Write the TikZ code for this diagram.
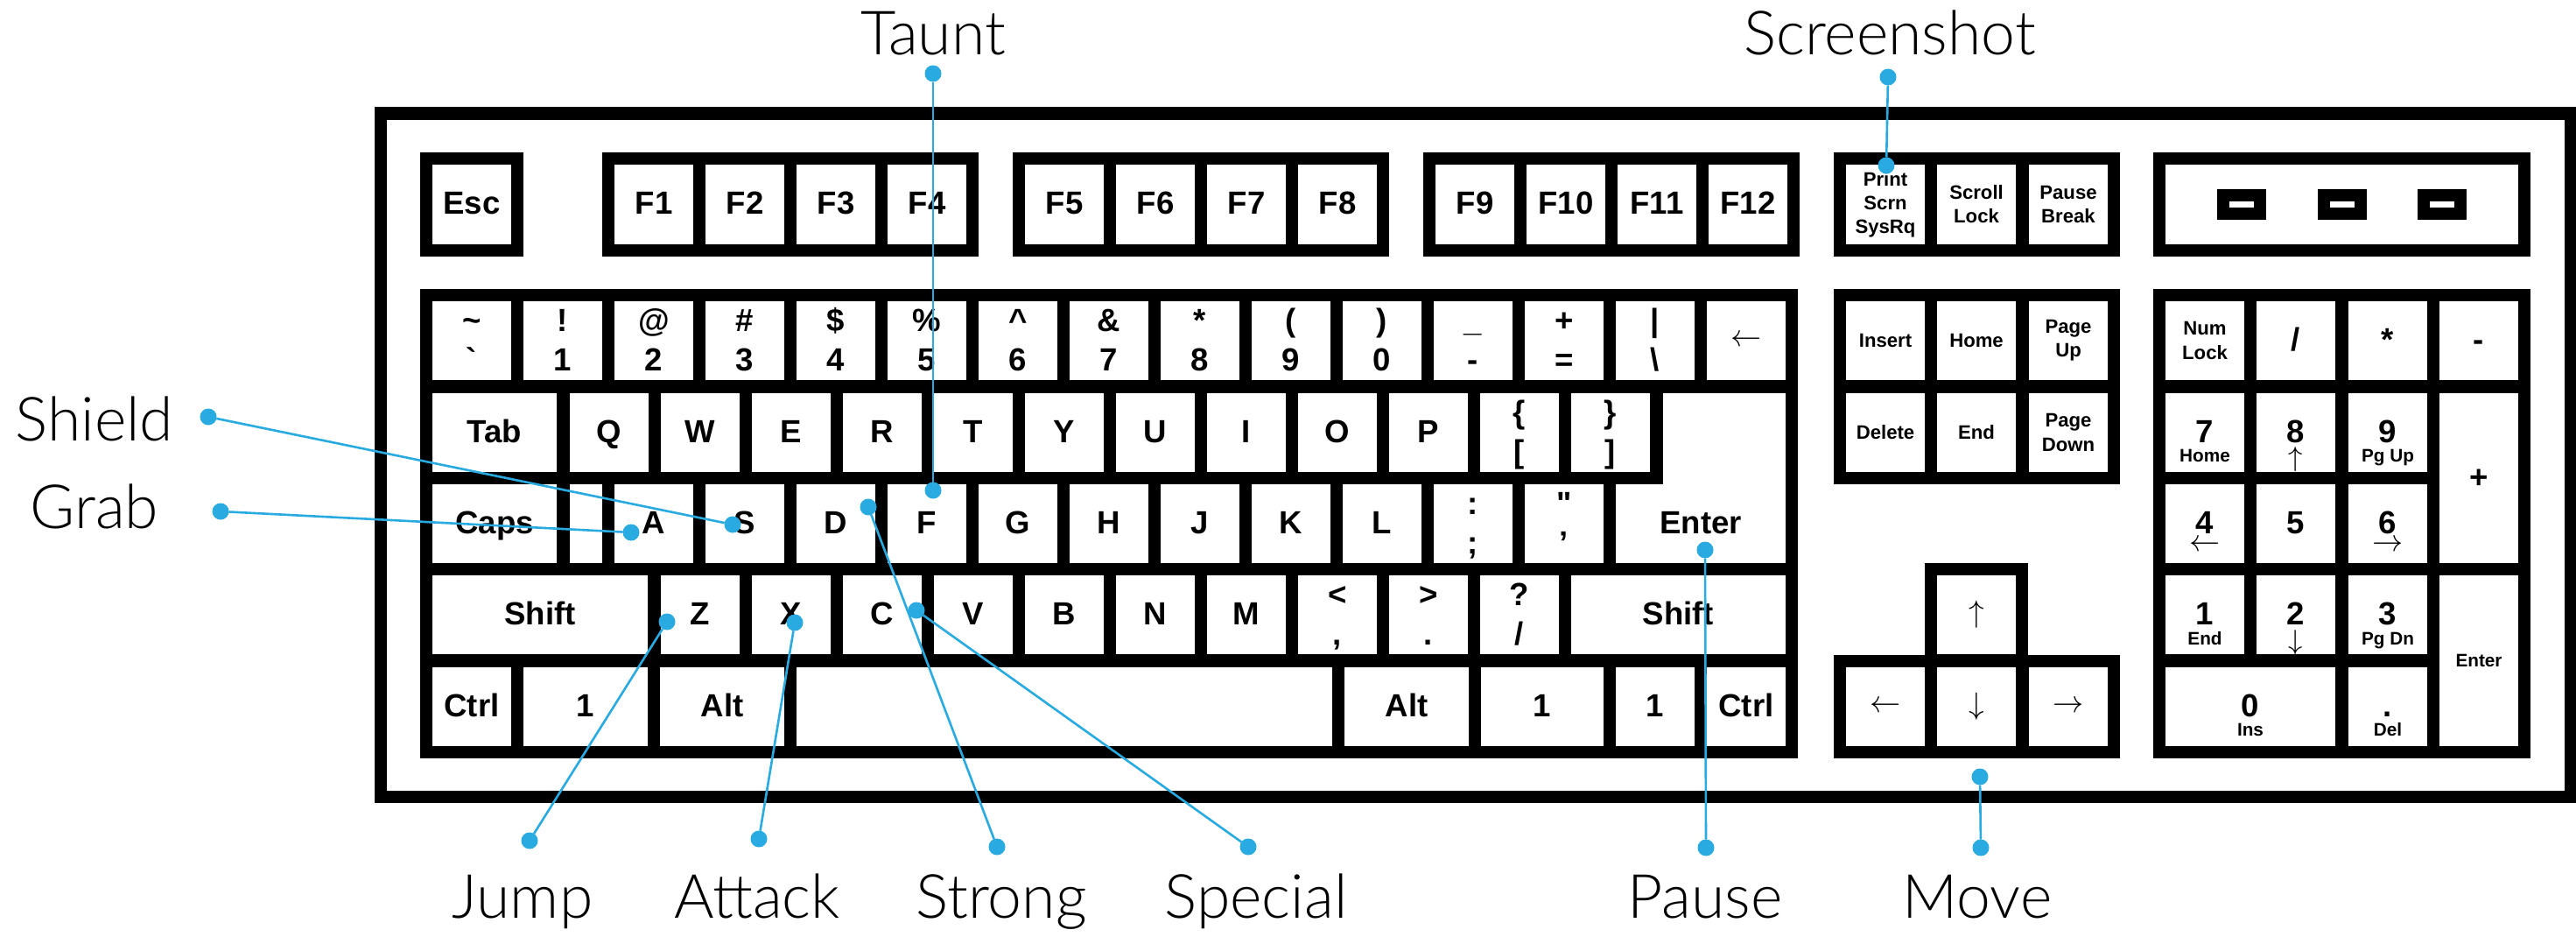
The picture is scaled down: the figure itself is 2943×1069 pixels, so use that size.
\documentclass[tikz,border=0pt]{standalone}
\usepackage{fontspec}
\setmainfont{Liberation Sans}
\newfontfamily\calloutfont{Lato Light}
\usepackage{tikz}
\usetikzlibrary{positioning}
\definecolor{callblue}{HTML}{29ABE2}
\tikzset{every node/.append style={inner sep=0pt, outer sep=0pt}}

\begin{document}
\begin{tikzpicture}[
    x=0.01cm, y=-0.01cm,
    casefill/.style={fill=black},
    keybox/.style={rectangle, fill=white, minimum width=0.9cm, minimum height=0.9cm},
    key/.style={keybox, font=\fontsize{10.4}{12}\selectfont\bfseries,
        text height=0.27cm, text depth=0.05cm},
    skey/.style={keybox, font=\fontsize{6.3}{7.7}\selectfont\bfseries, align=center},
    akey/.style={keybox, font=\fontsize{10}{12}\selectfont},
    keytxt/.style={anchor=base, font=\fontsize{10.4}{12}\selectfont\bfseries},
    subtxt/.style={anchor=base, font=\fontsize{5.9}{7}\selectfont\bfseries},
    lbl/.style={anchor=base, font=\calloutfont\fontsize{19.8}{24}\selectfont},
    calldot/.style={circle, fill=callblue, minimum size=0.19cm},
    callline/.style={callblue, line width=0.026cm}
]
\useasboundingbox (0,0) rectangle (2943,1069);

% ===== CASE =====
\fill[casefill] (428,122) rectangle (2943,917);
\fill[white] (442,137) rectangle (2930,903);

\fill[casefill] (480,174) rectangle (598,293);
\fill[casefill] (688,174) rectangle (1118,293);
\fill[casefill] (1157,174) rectangle (1587,293);
\fill[casefill] (1626,174) rectangle (2056,293);
\fill[casefill] (2095,174) rectangle (2422,293);
\fill[casefill] (2460,174) rectangle (2891,293);
\fill[casefill] (480,330) rectangle (2054,866);
\fill[casefill] (2095,330) rectangle (2422,553);
\fill[casefill] (2199,643) rectangle (2317,762);
\fill[casefill] (2095,748) rectangle (2422,866);
\fill[casefill] (2460,330) rectangle (2891,866);

% ===== FUNCTION ROW =====
\node[key] (esc) at (539,233.5) {Esc};
\foreach \t [count=\i from 0] in {1,2,3,4}
  \node[key] (f\t) at (747+104*\i,233.5) {F\t};
\foreach \t [count=\i from 0] in {5,6,7,8}
  \node[key] (f\t) at (1216+104*\i,233.5) {F\t};
\foreach \t [count=\i from 0] in {9,10,11,12}
  \node[key] (f\t) at (1685+104*\i,233.5) {F\t};
\node[skey] (prt) at (2154,233.5) {Print\\Scrn\\SysRq};
\node[skey] (scr) at (2258,233.5) {Scroll\\Lock};
\node[skey] (pse) at (2363,233.5) {Pause\\Break};
\node[keybox, minimum width=4.03cm, minimum height=0.91cm] (leds) at (2675.5,233.5) {};
\foreach \x in {2533,2647.5,2761.5} {
  \fill[casefill] (\x,216) rectangle +(56,35);
  \fill[white] (\x+14,230) rectangle +(28,7);
}

% ===== MAIN BLOCK =====
\foreach \u/\d [count=\i from 0] in {\textasciitilde/\textasciigrave, !/1, @/2, \#/3,
    \$/4, \%/5, \textasciicircum/6, \&/7, */8, {(}/9, {)}/0, \_/-, +/=, |/\textbackslash}{
  \node[keybox] (n\i) at (539+104*\i,389) {};
  \node[keytxt] (nu\i) at ([yshift=0.11cm]n\i.center) {\u};
  \node[keytxt] (nd\i) at ([yshift=-0.34cm]n\i.center) {\d};
}
\node[akey] (bksp) at (1995,389) {$\leftarrow$};

\node[key, minimum width=1.42cm] (tab) at (565,494) {Tab};
\foreach \t [count=\i from 0] in {Q,W,E,R,T,Y,U,I,O,P}
  \node[key] (k\t) at (696+104*\i,494) {\t};

\node[key, minimum width=1.42cm] (caps) at (565,598) {Caps};
\node[keybox, minimum width=0.37cm] (blank) at (669.5,598) {};
\foreach \t [count=\i from 0] in {A,S,D,F,G,H,J,K,L}
  \node[key] (k\t) at (747+104*\i,598) {\t};
\node[keybox, minimum width=1.40cm, minimum height=1.04cm] (entup) at (1970,501) {};
\node[key, minimum width=1.94cm] (enter) at (1943,598) {Enter};

\node[key, minimum width=2.46cm] (lshift) at (617,702) {Shift};
\foreach \t [count=\i from 0] in {Z,X,C,V,B,N,M}
  \node[key] (k\t) at (800+104*\i,702) {\t};
\node[key, minimum width=2.45cm] (rshift) at (1917.5,702) {Shift};

\foreach \x/\y/\u/\d [count=\i] in {1736/494/\{/[, 1840/494/\}/], 1683/598/:/;,
    1787/598/\textquotedbl/', 1528/702/</{,}, 1632/702/>/., 1736/702/?/{/}}{
  \node[keybox] (s\i) at (\x,\y) {};
  \node[keytxt] (su\i) at ([yshift=0.11cm]s\i.center) {\u};
  \node[keytxt] (sd\i) at ([yshift=-0.34cm]s\i.center) {\d};
}

\node[key] (lctrl) at (539,807) {Ctrl};
\node[key, minimum width=1.42cm] (lwin) at (669,807) {1};
\node[key, minimum width=1.42cm] (lalt) at (825,807) {Alt};
\node[keybox, minimum width=6.12cm] (space) at (1216,807) {};
\node[key, minimum width=1.42cm] (ralt) at (1607,807) {Alt};
\node[key, minimum width=1.40cm] (rwin) at (1762,807) {1};
\node[key] (menu) at (1891,807) {1};
\node[key] (rctrl) at (1995,807) {Ctrl};

% ===== NAVIGATION =====
\node[skey] (ins) at (2154,389) {Insert};
\node[skey] (home) at (2258,389) {Home};
\node[skey] (pgup) at (2363,389) {Page\\Up};
\node[skey] (del) at (2154,494) {Delete};
\node[skey] (end) at (2258,494) {End};
\node[skey] (pgdn) at (2363,494) {Page\\Down};
\node[akey] (up) at (2258,702) {$\uparrow$};
\node[akey] (left) at (2154,807) {$\leftarrow$};
\node[akey] (down) at (2258,807) {$\downarrow$};
\node[akey] (right) at (2363,807) {$\rightarrow$};

% ===== NUMPAD =====
\node[skey] (numlk) at (2519,389) {Num\\Lock};
\node[key] (pdiv) at (2623,389) {/};
\node[key] (pmul) at (2728,389) {*};
\node[key] (psub) at (2832,389) {-};
\node[key, minimum height=1.94cm] (padd) at (2832,546) {+};
\node[skey, minimum height=1.95cm, font=\fontsize{5.9}{7}\selectfont\bfseries] (pent) at (2832,754.5) {Enter};
\foreach \d/\x/\y in {7/2519/494, 8/2623/494, 9/2728/494, 4/2519/598, 5/2623/598,
    6/2728/598, 1/2519/702, 2/2623/702, 3/2728/702}
  \node[key] (p\d) at (\x,\y) {\d};
\node[key, minimum width=1.94cm] (p0) at (2571,807) {0};
\node[key] (pdot) at (2728,807) {.};
\node[subtxt] (p7s) at ([yshift=-0.33cm]p7.center) {Home};
\node[subtxt] (p9s) at ([yshift=-0.33cm]p9.center) {Pg Up};
\node[subtxt] (p1s) at ([yshift=-0.345cm]p1.center) {End};
\node[subtxt] (p3s) at ([yshift=-0.345cm]p3.center) {Pg Dn};
\node[subtxt] (p0s) at ([yshift=-0.335cm]p0.center) {Ins};
\node[subtxt] (pdots) at ([yshift=-0.335cm]pdot.center) {Del};
\node[font=\fontsize{8.8}{10}\selectfont] (p8s) at ([yshift=-0.31cm]p8.center) {$\uparrow$};
\node[font=\fontsize{8.8}{10}\selectfont] (p2s) at ([yshift=-0.315cm]p2.center) {$\downarrow$};
\node[font=\fontsize{10}{12}\selectfont] (p4s) at ([yshift=-0.255cm]p4.center) {$\leftarrow$};
\node[font=\fontsize{10}{12}\selectfont] (p6s) at ([yshift=-0.255cm]p6.center) {$\rightarrow$};

% ===== CALLOUTS =====
\node[calldot] (dTaunt) at (1066,84) {};
\node[calldot] (kTaunt) at (1066,560) {};
\node[lbl] (Taunt) at (1066,62) {Taunt};
\draw[callline] (dTaunt) -- (kTaunt);

\node[calldot] (dScreen) at (2157,88) {};
\node[calldot] (kScreen) at (2155,189) {};
\node[lbl] (Screen) at (2159,62) {Screenshot};
\draw[callline] (dScreen) -- (kScreen);

\node[calldot] (dShield) at (238,476) {};
\node[calldot] (kShield) at (837,599) {};
\node[lbl] (Shield) at (108,503) {Shield};
\draw[callline] (dShield) -- (kShield);

\node[calldot] (dGrab) at (252,584) {};
\node[calldot] (kGrab) at (721,608) {};
\node[lbl] (Grab) at (108,603) {Grab};
\draw[callline] (dGrab) -- (kGrab);

\node[calldot] (dJump) at (605,960) {};
\node[calldot] (kJump) at (762,710) {};
\node[lbl] (Jump) at (597,1048) {Jump};
\draw[callline] (dJump) -- (kJump);

\node[calldot] (dAttack) at (867,958) {};
\node[calldot] (kAttack) at (908,711) {};
\node[lbl] (Attack) at (865,1048) {Attack};
\draw[callline] (dAttack) -- (kAttack);

\node[calldot] (dStrong) at (1139,967) {};
\node[calldot] (kStrong) at (992,579) {};
\node[lbl] (Strong) at (1144,1048) {Strong};
\draw[callline] (dStrong) -- (kStrong);

\node[calldot] (dSpecial) at (1426,967) {};
\node[calldot] (kSpecial) at (1047,697) {};
\node[lbl] (Special) at (1435,1048) {Special};
\draw[callline] (dSpecial) -- (kSpecial);

\node[calldot] (dPause) at (1949,968) {};
\node[calldot] (kPause) at (1948,628) {};
\node[lbl] (Pause) at (1948,1048) {Pause};
\draw[callline] (dPause) -- (kPause);

\node[calldot] (dMove) at (2263,968) {};
\node[calldot] (kMove) at (2262,887) {};
\node[lbl] (Move) at (2259,1048) {Move};
\draw[callline] (dMove) -- (kMove);
\end{tikzpicture}
\end{document}
